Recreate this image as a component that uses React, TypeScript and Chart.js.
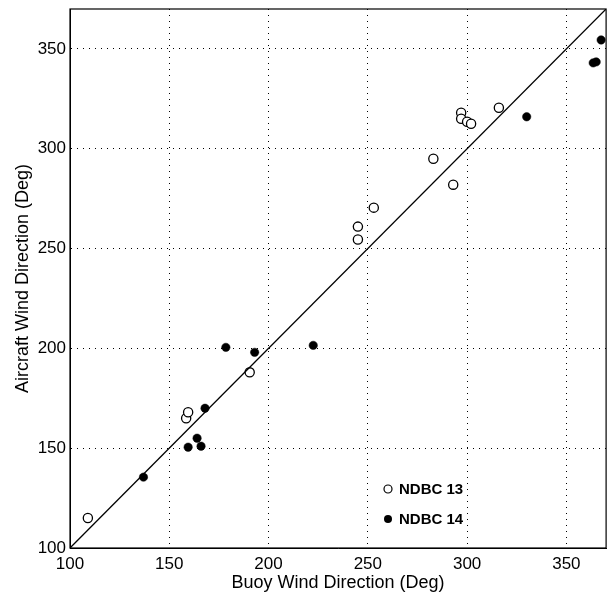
import React, { useEffect, useRef } from "react";
import { Chart, registerables } from "chart.js";

Chart.register(...registerables);

const axisMin = 100;
const axisMax = 370;
const tickValues = [100, 150, 200, 250, 300, 350];

const ndbc13X = [109, 158.5, 159.5, 190.5, 245, 245, 253, 283, 293, 297, 297, 300, 302, 316];
const ndbc13Y = [115, 165, 168, 188, 254.5, 261, 270.5, 295, 282, 318, 315, 313.5, 312.5, 320.5];

const ndbc14X = [137, 159.5, 164, 166, 168, 178.5, 193, 222.5, 330, 363.5, 365, 367.5];
const ndbc14Y = [135.5, 150.5, 155, 151, 170, 200.5, 198, 201.5, 316, 343, 343.5, 354.5];

const lineX = [100, 370];
const lineY = [100, 370];

const legendLabels = ["NDBC 13", "NDBC 14"];

const FONT = '"Liberation Sans", Arial, Helvetica, sans-serif';

const framePlugin = {
  id: "frame",
  afterDraw(chart: any) {
    const { ctx, chartArea } = chart;
    ctx.save();
    ctx.strokeStyle = "#000";
    ctx.lineWidth = 1.2;
    ctx.strokeRect(chartArea.left, chartArea.top, chartArea.right - chartArea.left, chartArea.bottom - chartArea.top);

    // legend
    const lx = chartArea.left + 318;
    const ly1 = chartArea.top + 480;
    const ly2 = chartArea.top + 510;
    ctx.lineWidth = 1.2;
    ctx.beginPath();
    ctx.arc(lx, ly1, 4, 0, Math.PI * 2);
    ctx.fillStyle = "#fff";
    ctx.fill();
    ctx.stroke();
    ctx.beginPath();
    ctx.arc(lx, ly2, 4, 0, Math.PI * 2);
    ctx.fillStyle = "#000";
    ctx.fill();
    ctx.fillStyle = "#000";
    ctx.font = `bold 15px ${FONT}`;
    ctx.textBaseline = "middle";
    ctx.textAlign = "left";
    ctx.fillText(legendLabels[0], lx + 11, ly1 + 1);
    ctx.fillText(legendLabels[1], lx + 11, ly2 + 1);
    ctx.restore();
  },
};

export default function App() {
  const ref = useRef<HTMLCanvasElement>(null);
  useEffect(() => {
    if (!ref.current) return;
    const chart = new Chart(ref.current, {
      type: "scatter",
      data: {
        datasets: [
          {
            type: "line",
            label: "1:1",
            data: lineX.map((x, i) => ({ x, y: lineY[i] })),
            borderColor: "#000",
            borderWidth: 1.3,
            pointRadius: 0,
            fill: false,
          },
          {
            label: legendLabels[0],
            data: ndbc13X.map((x, i) => ({ x, y: ndbc13Y[i] })),
            pointRadius: 4.6,
            pointBorderWidth: 1.3,
            pointBorderColor: "#000",
            pointBackgroundColor: "#fff",
            clip: false,
          },
          {
            label: legendLabels[1],
            data: ndbc14X.map((x, i) => ({ x, y: ndbc14Y[i] })),
            pointRadius: 4.2,
            pointBorderWidth: 0.5,
            pointBorderColor: "#000",
            pointBackgroundColor: "#000",
            clip: false,
          },
        ] as any,
      },
      options: {
        animation: false,
        responsive: false,
        maintainAspectRatio: false,
        layout: { padding: { left: 0, top: 9, right: 5, bottom: 0 } },
        plugins: { legend: { display: false }, tooltip: { enabled: false } },
        scales: {
          x: {
            type: "linear",
            min: axisMin,
            max: axisMax,
            afterBuildTicks: (axis: any) => {
              axis.ticks = tickValues.map((v) => ({ value: v }));
            },
            afterFit: (s: any) => {
              s.height = 48;
              s.paddingLeft = 0;
              s.paddingRight = 0;
            },
            ticks: {
              color: "#000",
              font: { family: FONT, size: 17 },
              padding: 6,
              maxRotation: 0,
              autoSkip: false,
            },
            grid: { color: "#000", lineWidth: 1, drawTicks: false },
            border: { color: "#000", width: 1, dash: [1, 5] },
            title: {
              display: true,
              text: "Buoy Wind Direction (Deg)",
              color: "#000",
              font: { family: FONT, size: 18 },
              padding: { top: 0, bottom: 2 },
            },
          },
          y: {
            type: "linear",
            min: axisMin,
            max: axisMax,
            afterBuildTicks: (axis: any) => {
              axis.ticks = tickValues.map((v) => ({ value: v }));
            },
            afterFit: (s: any) => {
              s.width = 70;
              s.paddingTop = 0;
              s.paddingBottom = 0;
            },
            ticks: {
              color: "#000",
              font: { family: FONT, size: 17 },
              padding: 4,
              autoSkip: false,
            },
            grid: { color: "#000", lineWidth: 1, drawTicks: false },
            border: { color: "#000", width: 1, dash: [1, 5] },
            title: {
              display: true,
              text: "Aircraft Wind Direction (Deg)",
              color: "#000",
              font: { family: FONT, size: 18 },
              padding: { top: 12, bottom: 0 },
            },
          },
        },
      },
      plugins: [framePlugin],
    } as any);
    return () => chart.destroy();
  }, []);
  return (
    <div style={{ position: "absolute", left: 0, top: 0, width: 612, height: 596, background: "#fff" }}>
      <canvas ref={ref} width={612} height={596} style={{ display: "block", width: 612, height: 596 }} />
    </div>
  );
}
